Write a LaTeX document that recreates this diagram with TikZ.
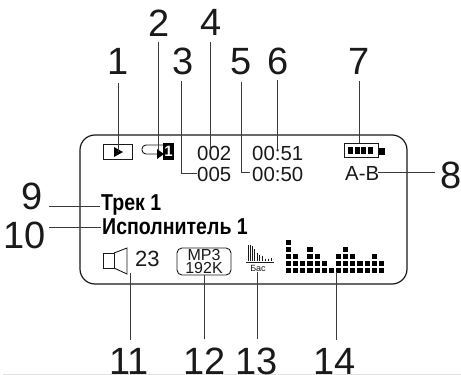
\documentclass[tikz,border=0pt]{standalone}
\usepackage{fontspec}
\setmainfont{Liberation Sans}
\definecolor{ink}{HTML}{1A1A1A}
\definecolor{wire}{HTML}{3A3A3A}
\tikzset{
 num/.style={inner sep=0pt,anchor=base,text=ink,font=\fontsize{38}{38}\selectfont},
 lcd/.style={inner sep=0pt,anchor=base west,text=ink,font=\fontsize{20.4}{20}\selectfont},
 boldt/.style={inner sep=0pt,anchor=base west,text=black,font=\fontsize{23}{24}\selectfont\bfseries},
 mp/.style={inner sep=0pt,anchor=base,text=ink,font=\fontsize{16}{16}\selectfont},
 wirel/.style={draw=wire,line width=1pt},
 frame/.style={draw=ink,line width=1.2pt},
 solid/.style={fill=black,draw=none}
}
\begin{document}
\begin{tikzpicture}[x=1pt,y=-1pt]
\useasboundingbox (0,0) rectangle (461,375);
\fill[white] (0,0) rectangle (461,375);
\draw[black!12,line width=0.6pt] (3,374.6) -- (461,374.6);
% display
\draw[frame,rounded corners=15pt] (80,135) rectangle (407,284);
% numbers
\node[num] (n1) at (118,74) {1};
\node[num] (n2) at (159,36.5) {2};
\node[num] (n3) at (183,74) {3};
\node[num] (n4) at (211,35) {4};
\node[num] (n5) at (241,74) {5};
\node[num] (n6) at (278,74) {6};
\node[num] (n7) at (359,74) {7};
\node[num] (n8) at (451,188) {8};
\node[num] (n9) at (32,209) {9};
\node[num] (n10) at (25,248) {10};
\node[num] (n11) at (129,374.3) {11};
\node[num] (n12) at (204.5,374.3) {12};
\node[num] (n13) at (257,374.3) {13};
\node[num] (n14) at (335,374.3) {14};
% texts
\node[lcd] (t002) at (197,160) {002};
\node[lcd] (t005) at (197,181) {005};
\node[lcd] (t051) at (252,160) {00:51};
\node[lcd] (t050) at (252,181) {00:50};
\node[lcd] (tab) at (345,180) {A-B};
\node[lcd,font=\fontsize{22}{22}\selectfont] (t23) at (135,266) {23};
\node[boldt] (tr) at (101,210) {\scalebox{0.85}[1]{Трек 1}};
\node[boldt] (is) at (102,234) {\scalebox{0.85}[1]{Исполнитель 1}};
% play
\draw[draw=ink,line width=0.9pt] (103.5,144) rectangle (132.5,159);
\fill[black] (114,147) coordinate (pa) -- (123,152) coordinate (pb) -- (114,157) -- cycle;
% repeat
\draw[draw=ink,line width=0.9pt,rounded corners=4pt] (157,154) -- (142,154) -- (142,145) -- (163,145);
\fill[black] (157,149) -- (164,154) coordinate (ra) -- (157,159) -- cycle;
\node[solid,minimum width=11pt,minimum height=16.5pt,inner sep=0pt,text=white,font=\fontsize{15}{15}\selectfont\bfseries] (rep) at (168.5,151.5) {1};
% battery
\draw[draw=ink,line width=1pt] (344.5,143.5) rectangle (378.5,157);
\foreach \i in {0,1,2,3}{\fill[black] ({348+\i*6.6},146.5) rectangle ({353+\i*6.6},154);}
\fill[black] (379,148) rectangle (385,155);
% speaker
\draw[draw=ink,line width=0.9pt] (103,253) rectangle (114,268);
\draw[draw=ink,line width=0.9pt] (114,253) -- (127,248) -- (127,274) -- (114,268);
% mp3
\draw[frame,rounded corners=5pt,line width=0.9pt] (177,248) rectangle (231,275);
\node[mp] (mp3) at (204,260) {MP3};
\node[mp] (k192) at (204,273) {192K};
% bass
\foreach \x/\t in {248.5/245,250.5/245,252.5/246,254.5/249,257/253,259.5/255,262/256,265/258.5,268/258.5,271/258}{
 \draw[draw=ink,line width=0.8pt] (\x,\t) -- (\x,261);}
\draw[draw=ink,line width=0.9pt] (246,262.8) -- (274,262.8);
\node[inner sep=0pt,anchor=base,text=ink,font=\fontsize{9}{9}\selectfont] (bas) at (258,271) {Бас};
% equaliser
\foreach \h [count=\c from 0] in {5,3,2,4,3,2,1,3,4,3,2,2,3,2}{
 \foreach \r in {1,...,\h}{
  \fill[black] ({286+\c*7.14},{268.3-(\r-1)*7.2}) rectangle ({291.2+\c*7.14},{273.4-(\r-1)*7.2});
 }}
% connector ends
\foreach \n/\x/\y in {a1/118/83,b1/118/152,a2/158/42,b2/158/150,a3/181.5/81,c3/181.5/173,a4/210.5/42,b4/210.5/150,a5/241/82,c5/241/172,a6/277.5/80,b6/277.5/150,a7/359.5/81,b7/359.5/143,a8/435/172,b8/378/172,a9/49/206,b9/100/206,a10/49/227,b10/101/227,a11/130/340,b11/130/273,a12/204/339,b12/204/275,a13/257.5/339,b13/257.5/272,a14/336/340,b14/336/272,e3/197/173,e5/250/172}{
 \coordinate (\n) at (\x,\y);}
\draw[wirel] (a1) -- (b1);
\draw[wirel] (a2) -- (b2);
\draw[wirel] (a3) -- (c3) -- (e3);
\draw[wirel] (a4) -- (b4);
\draw[wirel] (a5) -- (c5) -- (e5);
\draw[wirel] (a6) -- (b6);
\draw[wirel] (a7) -- (b7);
\draw[wirel] (a8) -- (b8);
\draw[wirel] (a9) -- (b9);
\draw[wirel] (a10) -- (b10);
\draw[wirel] (a11) -- (b11);
\draw[wirel] (a12) -- (b12);
\draw[wirel] (a13) -- (b13);
\draw[wirel] (a14) -- (b14);
\end{tikzpicture}
\end{document}
